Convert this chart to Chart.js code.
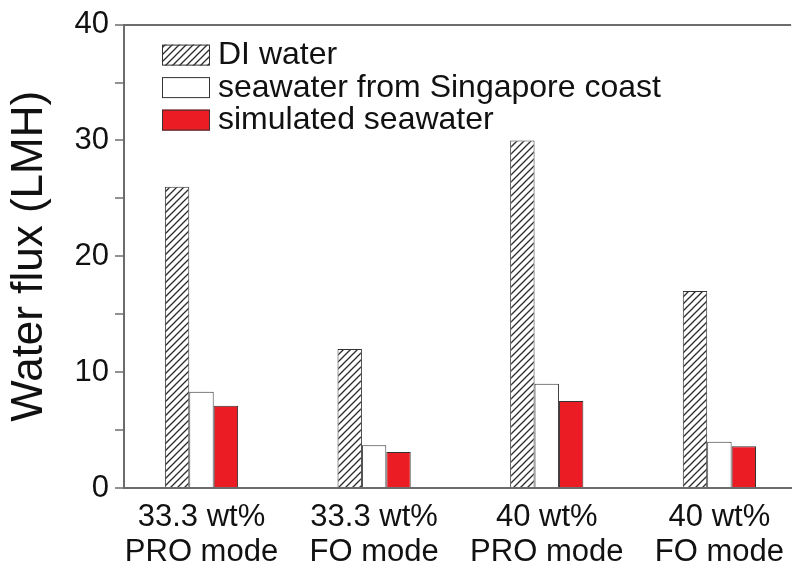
<!DOCTYPE html>
<html>
<head>
<meta charset="utf-8">
<script src="https://cdn.jsdelivr.net/npm/chart.js@4.4.1/dist/chart.umd.min.js"></script>
<style>
  html, body { margin: 0; padding: 0; background: #ffffff; }
  #wrap { width: 796px; height: 567px; }
</style>
</head>
<body>
<div id="wrap"><canvas id="c" width="796" height="567"></canvas></div>
<script>
// Membrane water flux for two draw-solution concentrations and two modes
const groupLabels = [
  ['33.3 wt%', 'PRO mode'],
  ['33.3 wt%', 'FO mode'],
  ['40 wt%', 'PRO mode'],
  ['40 wt%', 'FO mode']
];
const seriesNames = ['DI water', 'seawater from Singapore coast', 'simulated seawater'];
const diWater = [26, 12, 30, 17];
const seawaterSingapore = [8.3, 3.7, 9.0, 4.0];
const simulatedSeawater = [7.1, 3.1, 7.5, 3.6];
const yTickValues = [0, 10, 20, 30, 40];

const FONT = "'Liberation Sans', Arial, Helvetica, sans-serif";
const AXIS = '#6c6c6c';
const INK = '#111111';

Chart.defaults.font.family = FONT;

// diagonal "/" hatch used for the DI water bars
function makeHatch() {
  const s = 7;
  const c = document.createElement('canvas');
  c.width = s; c.height = s;
  const g = c.getContext('2d');
  g.fillStyle = '#ffffff';
  g.fillRect(0, 0, s, s);
  g.strokeStyle = '#2b2b2b';
  g.lineWidth = 1.3;
  g.beginPath();
  g.moveTo(0, s); g.lineTo(s, 0);
  g.moveTo(-1, 1); g.lineTo(1, -1);
  g.moveTo(s - 1, s + 1); g.lineTo(s + 1, s - 1);
  g.stroke();
  return g.createPattern(c, 'repeat');
}
const hatch = makeHatch();

// stacked legend drawn inside the plot, upper left
const insideLegend = {
  id: 'insideLegend',
  afterDraw(chart) {
    const ctx = chart.ctx;
    const a = chart.chartArea;
    ctx.save();
    ctx.font = '32px ' + FONT;
    ctx.textBaseline = 'middle';
    ctx.textAlign = 'left';
    chart.data.datasets.forEach((ds, i) => {
      const bx = a.left + 38;
      const by = a.top + 20 + i * 32.5;
      ctx.fillStyle = ds.backgroundColor;
      ctx.fillRect(bx, by, 48, 21);
      ctx.strokeStyle = '#333333';
      ctx.lineWidth = 1;
      ctx.strokeRect(bx + 0.5, by + 0.5, 47, 20);
      ctx.fillStyle = INK;
      ctx.fillText(ds.label, bx + 56, by + 11);
    });
    ctx.restore();
  }
};

const colors = [hatch, '#ffffff', '#ec1c24'];
const series = [diWater, seawaterSingapore, simulatedSeawater];

new Chart(document.getElementById('c'), {
  type: 'bar',
  data: {
    labels: groupLabels.map((_, i) => i),
    datasets: series.map((vals, k) => ({
      label: seriesNames[k],
      data: vals,
      backgroundColor: colors[k],
      borderColor: '#333333',
      borderWidth: 1,
      categoryPercentage: 0.424,
      barPercentage: 1.0
    }))
  },
  options: {
    responsive: false,
    animation: false,
    devicePixelRatio: 1,
    layout: { padding: { top: 23, left: 0, right: 0, bottom: 0 } },
    plugins: {
      legend: { display: false },
      tooltip: { enabled: false }
    },
    scales: {
      x: {
        type: 'linear',
        min: -0.4488,
        max: 3.4154,
        offset: false,
        afterBuildTicks(scale) {
          scale.ticks = groupLabels.map((_, i) => ({ value: i }));
        },
        afterFit(scale) { scale.height = 79; },
        grid: { display: false, drawTicks: false },
        border: { display: true, color: AXIS, width: 2 },
        ticks: {
          autoSkip: false,
          maxRotation: 0,
          padding: 12,
          color: INK,
          font: { size: 31, lineHeight: 1.12 },
          callback: (v) => groupLabels[v]
        }
      },
      y: {
        min: 0,
        max: 40,
        afterFit(scale) { scale.width = 124; },
        afterBuildTicks(scale) {
          // major ticks every 10 with an unlabeled tick halfway between
          const t = [];
          for (let i = 0; i < yTickValues.length; i++) {
            t.push({ value: yTickValues[i] });
            if (i < yTickValues.length - 1) t.push({ value: (yTickValues[i] + yTickValues[i + 1]) / 2 });
          }
          scale.ticks = t;
        },
        ticks: {
          padding: 6,
          color: INK,
          font: { size: 31 },
          callback: (v) => (yTickValues.includes(v) ? String(v) : '')
        },
        grid: {
          drawOnChartArea: true,
          color: (ctx) => (ctx.tick && ctx.tick.value === 40 ? AXIS : 'rgba(0,0,0,0)'),
          lineWidth: 2,
          tickColor: AXIS,
          tickWidth: 1.5,
          tickLength: 9
        },
        border: { display: true, color: AXIS, width: 2 },
        title: {
          display: true,
          text: 'Water flux (LMH)',
          color: INK,
          font: { size: 44 },
          padding: { top: 3, bottom: 0 }
        }
      }
    }
  },
  plugins: [insideLegend]
});
</script>
</body>
</html>
